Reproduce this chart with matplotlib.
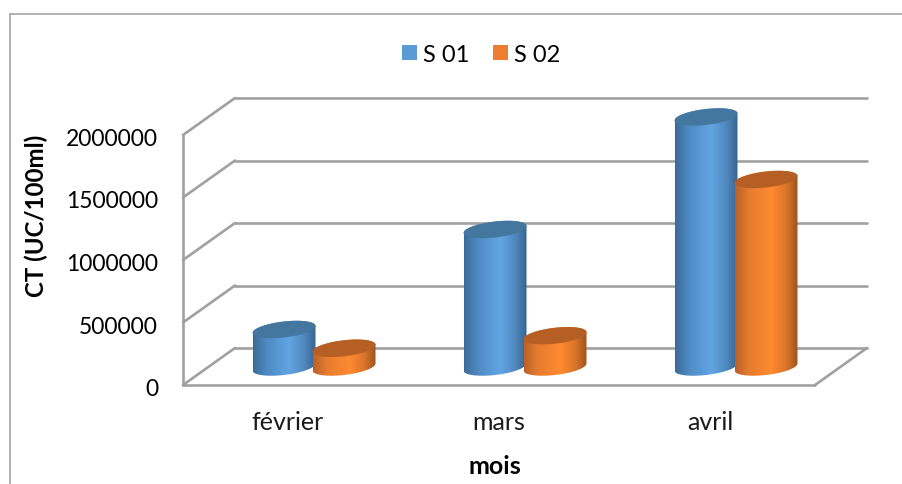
import numpy as np
import matplotlib
matplotlib.use("Agg")
import matplotlib.pyplot as plt
from matplotlib.colors import LinearSegmentedColormap
from matplotlib.patches import Polygon, Rectangle

plt.rcParams["font.family"] = ["Lato", "DejaVu Sans"]

# Monthly counts per station
months = ["février", "mars", "avril"]
series_names = ["S 01", "S 02"]
s01_values = [300000, 1100000, 2000000]
s02_values = [150000, 250000, 1500000]
tick_values = [0, 500000, 1000000, 1500000, 2000000]

W, H = 902, 484
fig = plt.figure(figsize=(W / 100, H / 100), dpi=100)
ax = fig.add_axes([0, 0, 1, 1])

# Scales: one category step is 211 px, one pixel is 8000 count units
X_STEP = 211.0
Y_UNIT = 8000.0
ORIGIN_X, ORIGIN_Y = 314.0, 367.0
ax.set_xlim(-ORIGIN_X / X_STEP, (W - ORIGIN_X) / X_STEP)
ax.set_ylim((ORIGIN_Y - H) * Y_UNIT, ORIGIN_Y * Y_UNIT)
ax.axis("off")

dx = 1 / X_STEP      # one pixel along x, in data units
dy = Y_UNIT          # one pixel along y, in data units

# Depth of the 3D floor relative to the plane the cylinders stand on
FRONT = -18 * dy
BACK = 19 * dy
WALL_LEFT = -131 * dx
SIDE_DEPTH = 52 * dx
FRONT_RIGHT = 501 * dx
GRID = "#a0a0a0"
line_kw = dict(color=GRID, lw=1.9, solid_capstyle="round", zorder=1)

for v in tick_values:
    ax.plot([WALL_LEFT, WALL_LEFT + SIDE_DEPTH], [v + FRONT, v + BACK], **line_kw)
    ax.plot([WALL_LEFT + SIDE_DEPTH, FRONT_RIGHT + SIDE_DEPTH], [v + BACK, v + BACK], **line_kw)
    ax.text(WALL_LEFT - 25 * dx, v + FRONT - 2.5 * dy, f"{v}", ha="right", va="center_baseline",
            fontsize=16.5, color="black")
ax.plot([WALL_LEFT, WALL_LEFT], [FRONT, tick_values[-1] + FRONT], **line_kw)
ax.plot([WALL_LEFT, FRONT_RIGHT], [FRONT, FRONT], **line_kw)
ax.plot([FRONT_RIGHT, FRONT_RIGHT + SIDE_DEPTH], [FRONT, BACK], **line_kw)

# Cylinders: elliptical caps sheared so that the right side sits higher
A = 31.5 * dx
B = 8.0 * dy
SHEAR = 3.5 * dy
BAR_OFFSET = 30.0 * dx

blue_cmap = LinearSegmentedColormap.from_list(
    "blue_body", [(0, "#3b6a97"), (0.22, "#4f8ac2"), (0.58, "#62a5e4"),
                  (0.82, "#4f87bd"), (1, "#38648f")])
orange_cmap = LinearSegmentedColormap.from_list(
    "orange_body", [(0, "#b9612a"), (0.22, "#e67c2f"), (0.58, "#ff8a31"),
                    (0.82, "#d97429"), (1, "#9c5420")])
gradient = np.linspace(0, 1, 256)[None, :]


def cap(cx, cy, t):
    return cx + A * np.cos(t), cy + SHEAR * np.cos(t) + B * np.sin(t)


def draw_cylinder(cx, value, cmap, top_color, z):
    lower = np.linspace(np.pi, 2 * np.pi, 60)
    xb, yb = cap(cx, 0, lower)
    upper = np.linspace(0, np.pi, 60)
    xt, yt = cap(cx, value, upper)
    outline = np.column_stack([np.r_[xb, xt], np.r_[yb, yt]])
    clip = Polygon(outline, closed=True, transform=ax.transData, fc="none", ec="none")
    ax.add_patch(clip)
    img = ax.imshow(gradient, cmap=cmap, aspect="auto", zorder=z,
                    extent=(cx - A, cx + A, -20 * dy, value + 12 * dy),
                    interpolation="bilinear")
    img.set_clip_path(clip)
    t = np.linspace(0, 2 * np.pi, 120)
    xc, yc = cap(cx, value, t)
    ax.add_patch(Polygon(np.column_stack([xc, yc]), closed=True, fc=top_color,
                         ec="none", zorder=z + 0.1))


for i, (a, b) in enumerate(zip(s01_values, s02_values)):
    draw_cylinder(i - BAR_OFFSET, a, blue_cmap, "#44779f", 2 + i * 2)
    draw_cylinder(i + BAR_OFFSET, b, orange_cmap, "#b55f24", 3 + i * 2)
    ax.text(i - 26 * dx, FRONT - 36 * dy, months[i], ha="center", va="center_baseline",
            fontsize=18, color="#1a1a1a")

ax.set_xlim(-ORIGIN_X / X_STEP, (W - ORIGIN_X) / X_STEP)
ax.set_ylim((ORIGIN_Y - H) * Y_UNIT, ORIGIN_Y * Y_UNIT)

# Axis titles
ax.text(181 * dx, (ORIGIN_Y - 465) * dy, "mois", ha="center", va="center_baseline",
        fontsize=18, fontweight="bold", color="black")
ax.text(-278 * dx, (ORIGIN_Y - 216) * dy, "CT (UC/100ml)", rotation=90, ha="center", va="center",
        fontsize=17.3, fontweight="bold", color="black")

# Legend swatches and labels
for px, label, color in [(402, series_names[0], "#5b9bd5"), (493, series_names[1], "#ed7d31")]:
    ax.add_patch(Rectangle(((px - ORIGIN_X) * dx, (ORIGIN_Y - 60) * dy), 15 * dx, 15 * dy,
                           fc=color, ec="none", zorder=5))
    ax.text((px + 21 - ORIGIN_X) * dx, (ORIGIN_Y - 53) * dy, label, ha="left", va="center_baseline",
            fontsize=17, color="black")

# Chart frame
frame_x = (9.5 - ORIGIN_X) * dx
frame_y = (ORIGIN_Y - 13.5) * dy
frame_kw = dict(color="#a6a6a6", lw=1.2, zorder=1)
ax.plot([frame_x, frame_x], [(ORIGIN_Y - H) * dy, frame_y], **frame_kw)
ax.plot([frame_x, (W - ORIGIN_X) * dx], [frame_y, frame_y], **frame_kw)

fig.savefig("out.png", dpi=100, facecolor="white")
